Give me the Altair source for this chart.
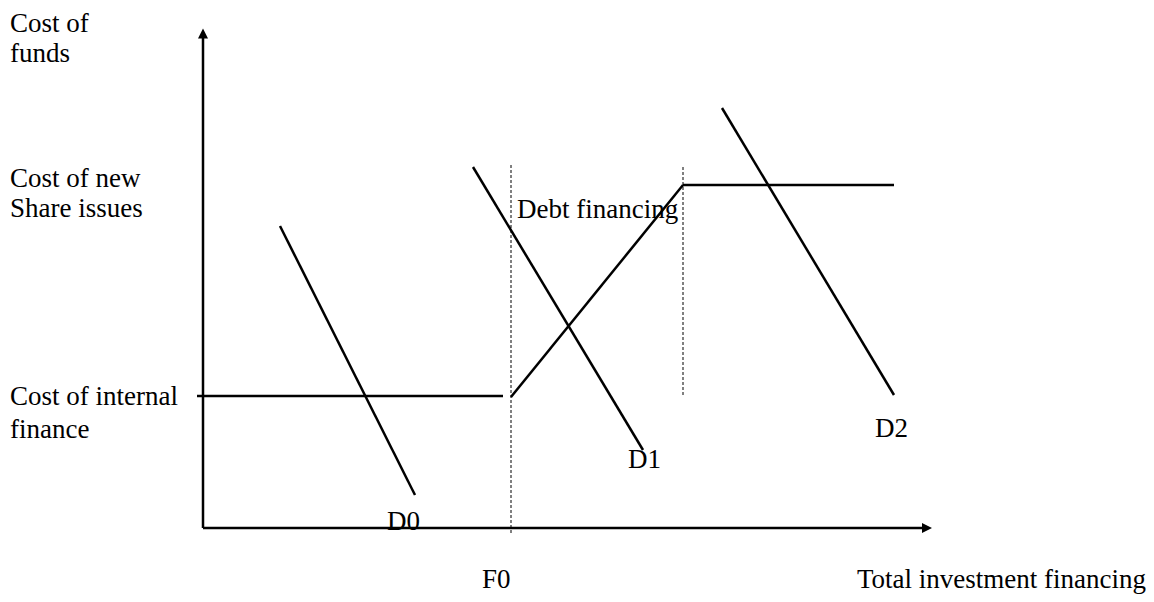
import altair as alt
import pandas as pd

# Diagram coordinates (x = investment financing, y = cost of funds), origin at the axes' corner
# Solid schedule / demand segments
solid_names = ["internal", "debt", "shares", "D0", "D1", "D2"]
solid_x1 = [-0.6, 30.8, 48.0, 7.7, 27.0, 51.9]
solid_y1 = [13.2, 13.1, 34.3, 30.2, 36.1, 42.0]
solid_x2 = [30.0, 48.0, 69.1, 21.2, 44.0, 69.1]
solid_y2 = [13.2, 34.3, 34.3, 3.3, 7.8, 13.3]

# Dashed verticals
dash_x = [30.8, 48.0]
dash_y1 = [36.3, 36.1]
dash_y2 = [-0.7, 13.1]

# Axes (with arrow heads)
axis_x1 = [0.0, 0.0]
axis_y1 = [0.0, 0.0]
axis_x2 = [0.0, 72.2]
axis_y2 = [49.4, 0.0]
arrow_x = [0.0, 72.4]
arrow_y = [49.45, 0.0]
arrow_shape = ["M0,-1L1,1L-1,1Z", "M1,0L-1,-1L-1,1Z"]

# Labels
label_text = ["Cost of", "funds", "Cost of new", "Share issues", "Cost of internal", "finance",
              "Debt financing", "D0", "D1", "D2", "F0", "Total investment financing"]
label_x = [-19.3, -19.3, -19.3, -19.3, -19.3, -19.3, 31.4, 18.4, 42.5, 67.2, 27.9, 65.4]
label_y = [49.6, 46.6, 34.1, 31.1, 12.3, 9.0, 31.0, -0.2, 6.0, 9.1, -6.0, -6.0]

W, H = 1138, 586
xs = alt.Scale(domain=[-19.5, 94.3], range=[0, W], zero=False, nice=False)
ys = alt.Scale(domain=[-6.6, 52.0], range=[H, 0], zero=False, nice=False)

solid = pd.DataFrame({"name": solid_names, "x": solid_x1, "y": solid_y1, "x2": solid_x2, "y2": solid_y2})
dashed = pd.DataFrame({"x": dash_x, "y": dash_y1, "y2": dash_y2})
axes = pd.DataFrame({"x": axis_x1, "y": axis_y1, "x2": axis_x2, "y2": axis_y2})
arrows = pd.DataFrame({"x": arrow_x, "y": arrow_y, "shape": arrow_shape})
labels = pd.DataFrame({"text": label_text, "x": label_x, "y": label_y})

X = lambda f: alt.X(f, type="quantitative", scale=xs, axis=None)
Y = lambda f: alt.Y(f, type="quantitative", scale=ys, axis=None)

axis_layer = alt.Chart(axes).mark_rule(color="black", strokeWidth=2.5).encode(
    x=X("x"), y=Y("y"), x2="x2", y2="y2")

arrow_layer = alt.Chart(arrows).mark_point(filled=True, color="black", size=100, opacity=1,
                                           strokeWidth=0).encode(
    x=X("x"), y=Y("y"), shape=alt.Shape("shape:N", scale=None, legend=None))

solid_layer = alt.Chart(solid).mark_rule(color="black", strokeWidth=2.5).encode(
    x=X("x"), y=Y("y"), x2="x2", y2="y2")

dash_layer = alt.Chart(dashed).mark_rule(color="black", strokeWidth=1, strokeDash=[3, 2]).encode(
    x=X("x"), y=Y("y"), y2="y2")

text_layer = alt.Chart(labels).mark_text(
    align="left", baseline="alphabetic", font="Liberation Serif", fontSize=27, color="black"
).encode(x=X("x"), y=Y("y"), text="text:N")

chart = alt.layer(dash_layer, axis_layer, arrow_layer, solid_layer, text_layer).properties(
    width=W, height=H, padding=0, autosize=alt.AutoSizeParams(type="none")
).configure_view(stroke=None)

chart.save("out.html", embed_options={"renderer": "svg", "actions": False})
